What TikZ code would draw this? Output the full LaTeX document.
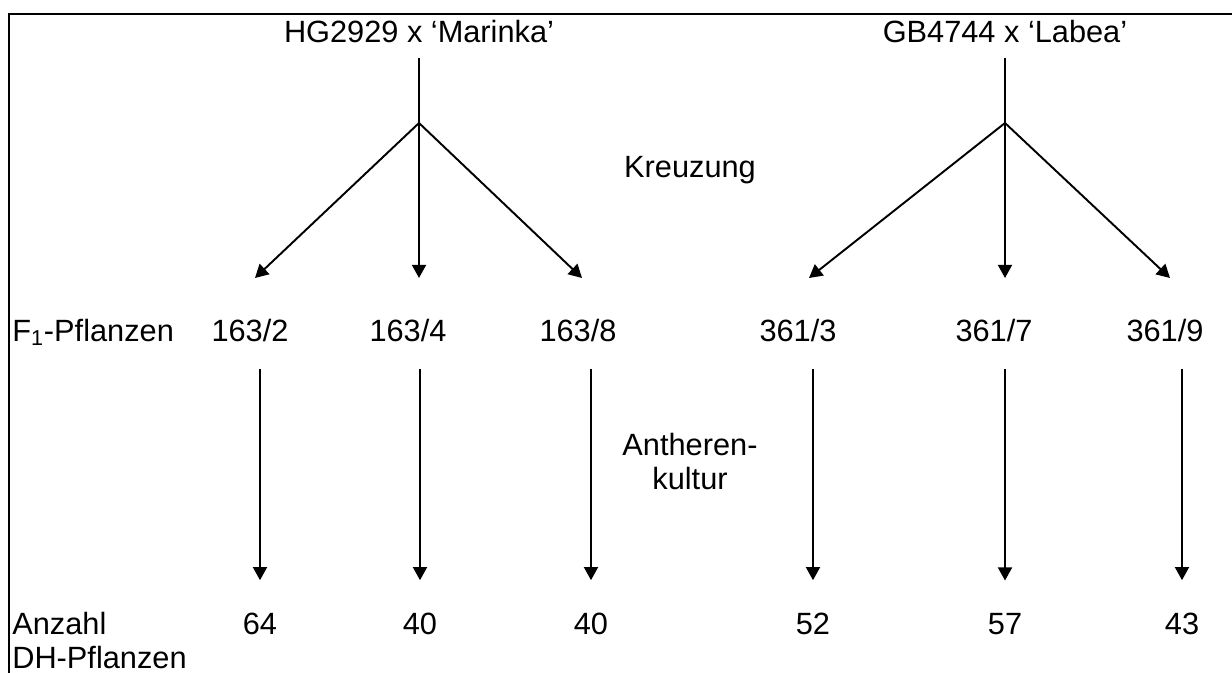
\documentclass[tikz,border=0pt]{standalone}
\usepackage{fontspec}
\setmainfont{Liberation Sans}
\usetikzlibrary{arrows.meta}
\tikzset{txt/.style={anchor=base, inner sep=0pt, font=\fontsize{17.5}{21}\selectfont}}
\tikzset{frame/.style={draw, line width=1.5pt}}
\tikzset{stem/.style={draw, line width=1.1pt}}
\tikzset{arr/.style={draw, line width=1.1pt, -{Triangle[length=7.5pt, width=8pt]}}}
\tikzset{arrdn/.style={arr, shorten <=0.54cm, shorten >=0.64cm}}

\begin{document}
\begin{tikzpicture}[x=0.02cm, y=-0.02cm]
	\useasboundingbox (0,0) rectangle (1232,673);
	% frame
	\coordinate (tl) at (9,14);
	\draw[frame] (1232,14) -- (tl) -- (9,673);

	% crosses
	\node[txt] (c1) at (419,42) {HG2929 x ‘Marinka’};
	\node[txt] (c2) at (1005,42) {GB4744 x ‘Labea’};
	\coordinate (b1) at (419,123);
	\coordinate (b2) at (1005,123);
	\node[txt] (kr) at (690,177) {Kreuzung};

	% arrow tips above F1 row
	\coordinate (t1) at (255,278);
	\coordinate (t2) at (419,278);
	\coordinate (t3) at (582,278);
	\coordinate (t4) at (809,278);
	\coordinate (t5) at (1005,278);
	\coordinate (t6) at (1170,278);

	% F1 row
	\node[txt, anchor=base west] (f1) at (12,341) {F\textsubscript{1}-Pflanzen};
	\node[txt] (n1) at (250,341) {163/2};
	\node[txt] (n2) at (408,341) {163/4};
	\node[txt] (n3) at (578,341) {163/8};
	\node[txt] (n4) at (798,341) {361/3};
	\node[txt] (n5) at (994,341) {361/7};
	\node[txt] (n6) at (1165,341) {361/9};

	\node[txt] (an) at (690,455) {Antheren-};
	\node[txt] (ku) at (690,489) {kultur};

	% DH row
	\node[txt, anchor=base west] (az) at (12,634) {Anzahl};
	\node[txt, anchor=base west] (dh) at (12,668) {DH-Pflanzen};
	\node[txt] (d1) at (260,634) {64};
	\node[txt] (d2) at (420,634) {40};
	\node[txt] (d3) at (591,634) {40};
	\node[txt] (d4) at (813,634) {52};
	\node[txt] (d5) at (1005,634) {57};
	\node[txt] (d6) at (1182,634) {43};

	\draw[stem, shorten <=0.3cm] (c1) -- (b1);
	\draw[stem, shorten <=0.3cm] (c2) -- (b2);
	\foreach \t in {t1,t2,t3} \draw[arr] (b1) -- (\t);
	\foreach \t in {t4,t5,t6} \draw[arr] (b2) -- (\t);

	\foreach \i in {1,...,6} \draw[arrdn] (d\i |- n\i.south) -- (d\i);
\end{tikzpicture}
\end{document}
